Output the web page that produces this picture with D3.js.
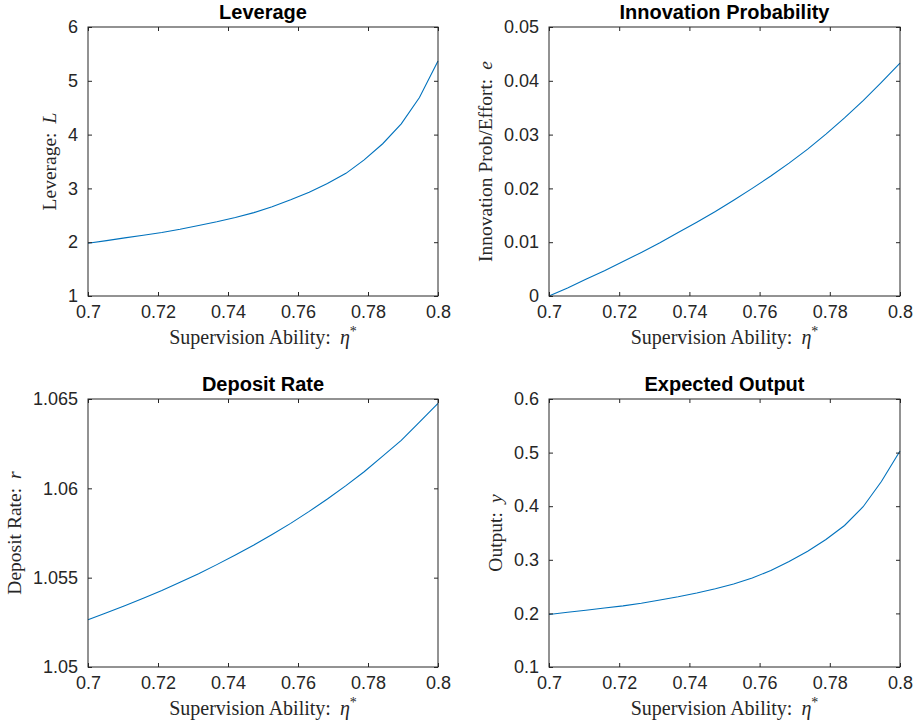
<!DOCTYPE html>
<html>
<head>
<meta charset="utf-8">
<script src="https://cdn.jsdelivr.net/npm/d3@7"></script>
<style>
  body { margin: 0; background: #fff; }
  text { fill: #262626; }
</style>
</head>
<body>
<div id="chart"></div>
<script>
// supervision ability grid (20 points)
const eta = [0.7, 0.7053, 0.7105, 0.7158, 0.7211, 0.7263, 0.7316, 0.7368, 0.7421, 0.7474,
             0.7526, 0.7579, 0.7632, 0.7684, 0.7737, 0.7789, 0.7842, 0.7895, 0.7947, 0.8];

const leverage = [1.98, 2.03, 2.08, 2.13, 2.18, 2.24, 2.31, 2.38, 2.46, 2.55,
                  2.66, 2.79, 2.93, 3.09, 3.28, 3.53, 3.83, 4.20, 4.69, 5.37];

const innovation = [0, 0.0015, 0.0031, 0.0047, 0.0064, 0.0081, 0.0099, 0.0118, 0.0137, 0.0157,
                    0.0178, 0.0200, 0.0223, 0.0247, 0.0273, 0.0301, 0.0331, 0.0363, 0.0397, 0.0433];

const depositRate = [1.05265, 1.05304, 1.05343, 1.05385, 1.05428, 1.05475, 1.05522, 1.05573, 1.05627, 1.05683,
                     1.05742, 1.05804, 1.05871, 1.05940, 1.06015, 1.06093, 1.06180, 1.06268, 1.06371, 1.06475];

const output = [0.198, 0.202, 0.206, 0.210, 0.214, 0.219, 0.225, 0.231, 0.238, 0.246,
                0.255, 0.266, 0.280, 0.297, 0.316, 0.338, 0.364, 0.399, 0.446, 0.503];

const xTicks = [0.7, 0.72, 0.74, 0.76, 0.78, 0.8];
const leverageTicks = [1, 2, 3, 4, 5, 6];
const innovationTicks = [0, 0.01, 0.02, 0.03, 0.04, 0.05];
const depositTicks = [1.05, 1.055, 1.06, 1.065];
const outputTicks = [0.1, 0.2, 0.3, 0.4, 0.5, 0.6];

const panels = [
  { title: "Leverage", values: leverage, ticks: leverageTicks, label: "Leverage:", sym: "L",
    box: [88, 27, 438, 296] },
  { title: "Innovation Probability", values: innovation, ticks: innovationTicks, label: "Innovation Prob/Effort:", sym: "e",
    box: [549, 27, 900, 296] },
  { title: "Deposit Rate", values: depositRate, ticks: depositTicks, label: "Deposit Rate:", sym: "r",
    box: [88, 399, 438, 667] },
  { title: "Expected Output", values: output, ticks: outputTicks, label: "Output:", sym: "y",
    box: [549, 399, 900, 667] }
];

const svg = d3.select("#chart").append("svg")
  .attr("width", 913)
  .attr("height", 724);

const sans = "'Liberation Sans', Arial, Helvetica, sans-serif";
const serif = "'Liberation Serif', 'Times New Roman', serif";
const tickLen = 4;

panels.forEach(p => {
  const [x0, y0, x1, y1] = p.box;
  const x = d3.scaleLinear().domain([0.7, 0.8]).range([x0, x1]);
  const y = d3.scaleLinear().domain(d3.extent(p.ticks)).range([y1, y0]);

  const g = svg.append("g");

  // line
  g.append("path")
    .datum(eta.map((e, i) => [e, p.values[i]]))
    .attr("fill", "none")
    .attr("stroke", "#0072BD")
    .attr("stroke-width", 1.1)
    .attr("d", d3.line().x(d => x(d[0])).y(d => y(d[1])));

  // bottom / left axes with inward ticks, mirrored on top / right
  const axB = g.append("g").attr("transform", `translate(0,${y1})`)
    .call(d3.axisBottom(x).tickValues(xTicks).tickSizeInner(-tickLen).tickSizeOuter(0)
      .tickPadding(9).tickFormat(d => String(d)));
  const axT = g.append("g").attr("transform", `translate(0,${y0})`)
    .call(d3.axisTop(x).tickValues(xTicks).tickSizeInner(-tickLen).tickSizeOuter(0).tickFormat(""));
  const axL = g.append("g").attr("transform", `translate(${x0},0)`)
    .call(d3.axisLeft(y).tickValues(p.ticks).tickSizeInner(-tickLen).tickSizeOuter(0)
      .tickPadding(10).tickFormat(d => String(d)));
  const axR = g.append("g").attr("transform", `translate(${x1},0)`)
    .call(d3.axisRight(y).tickValues(p.ticks).tickSizeInner(-tickLen).tickSizeOuter(0).tickFormat(""));

  [axB, axT, axL, axR].forEach(a => {
    a.select(".domain").remove();
    a.selectAll("line").attr("stroke", "#262626").attr("stroke-width", 1);
    a.selectAll("text").attr("font-family", sans).attr("font-size", 18).attr("fill", "#262626");
  });

  // box
  g.append("rect")
    .attr("x", x0).attr("y", y0)
    .attr("width", x1 - x0).attr("height", y1 - y0)
    .attr("fill", "none")
    .attr("stroke", "#262626")
    .attr("stroke-width", 1);

  // title
  g.append("text")
    .attr("x", (x0 + x1) / 2)
    .attr("y", y0 - 8)
    .attr("text-anchor", "middle")
    .attr("font-family", sans)
    .attr("font-weight", "bold")
    .attr("font-size", 20)
    .style("fill", "#000")
    .text(p.title);

  // x label
  const xl = g.append("text")
    .attr("x", (x0 + x1) / 2)
    .attr("y", y1 + 48)
    .attr("text-anchor", "middle")
    .attr("font-family", serif)
    .attr("font-size", 20);
  xl.append("tspan").text("Supervision Ability:");
  xl.append("tspan").attr("dx", 9).attr("font-style", "italic").text("η");
  xl.append("tspan").attr("dy", -8).attr("font-size", 14).text("*");

  // y label, placed left of the widest tick label
  let maxW = 0;
  axL.selectAll("text").each(function() { maxW = Math.max(maxW, this.getBBox().width); });
  const lx = x0 - 10 - maxW - 12;
  const yl = g.append("text")
    .attr("transform", `translate(${lx},${(y0 + y1) / 2}) rotate(-90)`)
    .attr("text-anchor", "middle")
    .attr("font-family", serif)
    .attr("font-size", 19.5);
  yl.append("tspan").text(p.label);
  yl.append("tspan").attr("dx", 9).attr("font-style", "italic").text(p.sym);
});
</script>
</body>
</html>
